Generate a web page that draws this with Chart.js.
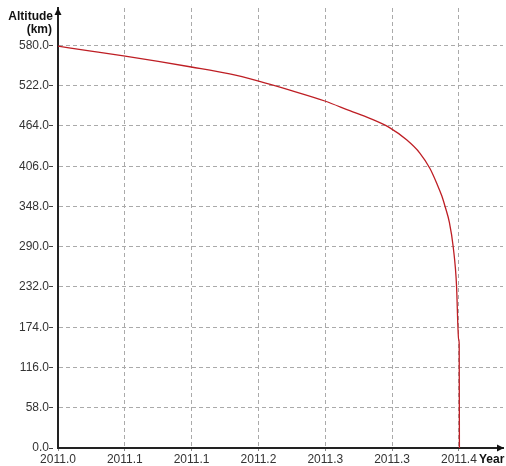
<!DOCTYPE html>
<html>
<head>
<meta charset="utf-8">
<script src="https://cdn.jsdelivr.net/npm/chart.js@4.4.1/dist/chart.umd.min.js"></script>
<style>
  body { margin: 0; background: #fff; }
  canvas { display: block; }
</style>
</head>
<body>
<canvas id="decay" width="506" height="466"></canvas>
<script>
// orbit decay
var years = [2011.0000, 2011.0330, 2011.0654, 2011.1000, 2011.1330, 2011.1713, 2011.1993, 2011.2330,
  2011.2662, 2011.2911, 2011.3111, 2011.3304, 2011.3478, 2011.3610, 2011.3710, 2011.3780,
  2011.3830, 2011.3862, 2011.3905, 2011.3943, 2011.3977, 2011.3990, 2011.3997, 2011.4003, 2011.4005];
var altitude = [579, 572, 565, 557, 549, 539, 529, 515,
  500, 486, 475, 462, 444, 425, 403, 381,
  363, 348, 325, 290, 232, 175, 157, 150, 0];

var yTicks = [0, 58, 116, 174, 232, 290, 348, 406, 464, 522, 580];
var xTicks = [2011.0, 2011.0667, 2011.1333, 2011.2, 2011.2667, 2011.3333, 2011.4];

var points = years.map(function (y, i) { return { x: y, y: altitude[i] }; });

// arrows + axis titles
var axisDeco = {
  id: 'axisDeco',
  afterDraw: function (chart) {
    var ctx = chart.ctx;
    var a = chart.chartArea;
    ctx.save();
    ctx.fillStyle = '#111';
    ctx.beginPath();
    ctx.moveTo(a.left, a.top);
    ctx.lineTo(a.left - 3.5, a.top + 7);
    ctx.lineTo(a.left + 3.5, a.top + 7);
    ctx.closePath();
    ctx.fill();
    ctx.beginPath();
    ctx.moveTo(a.right + 1, a.bottom);
    ctx.lineTo(a.right - 6, a.bottom - 3.5);
    ctx.lineTo(a.right - 6, a.bottom + 3.5);
    ctx.closePath();
    ctx.fill();

    ctx.font = 'bold 12px "Liberation Sans", Arial, sans-serif';
    ctx.textAlign = 'right';
    ctx.textBaseline = 'alphabetic';
    ctx.fillText('Altitude', 53, 20);
    ctx.fillText('(km)', 52, 33);
    ctx.textAlign = 'left';
    ctx.fillText('Year', 479, 463);
    ctx.restore();
  }
};

var chart = new Chart(document.getElementById('decay').getContext('2d'), {
  type: 'line',
  data: {
    datasets: [{
      data: points,
      borderColor: 'rgb(190, 30, 36)',
      borderWidth: 1.3,
      pointRadius: 0,
      cubicInterpolationMode: 'monotone',
      fill: false
    }]
  },
  options: {
    responsive: false,
    animation: false,
    layout: { padding: { top: 8, right: 3, left: 0, bottom: 0 } },
    plugins: { legend: { display: false }, tooltip: { enabled: false } },
    scales: {
      x: {
        type: 'linear',
        min: 2011,
        max: 2011.444,
        afterBuildTicks: function (scale) {
          scale.ticks = xTicks.map(function (v) { return { value: v }; });
        },
        afterFit: function (scale) { scale.height = 18; },
        ticks: {
          color: '#333',
          padding: 1,
          maxRotation: 0,
          autoSkip: false,
          font: { family: '"Liberation Sans", Arial, sans-serif', size: 12 },
          callback: function (v) { return v.toFixed(1); }
        },
        grid: {
          color: '#aaa',
          tickColor: '#888',
          tickLength: 3,
          tickBorderDash: []
        },
        border: { color: '#222', width: 2, dash: [4, 3] }
      },
      y: {
        type: 'linear',
        min: 0,
        max: 634,
        afterBuildTicks: function (scale) {
          scale.ticks = yTicks.map(function (v) { return { value: v }; });
        },
        afterFit: function (scale) { scale.width = 58; },
        ticks: {
          color: '#333',
          padding: 0,
          autoSkip: false,
          font: { family: '"Liberation Sans", Arial, sans-serif', size: 12 },
          callback: function (v) { return v.toFixed(1); }
        },
        grid: {
          color: '#aaa',
          tickColor: '#444',
          tickLength: 9,
          tickBorderDash: [4, 10]
        },
        border: { color: '#222', width: 2, dash: [4, 3] }
      }
    }
  },
  plugins: [axisDeco]
});
</script>
</body>
</html>
